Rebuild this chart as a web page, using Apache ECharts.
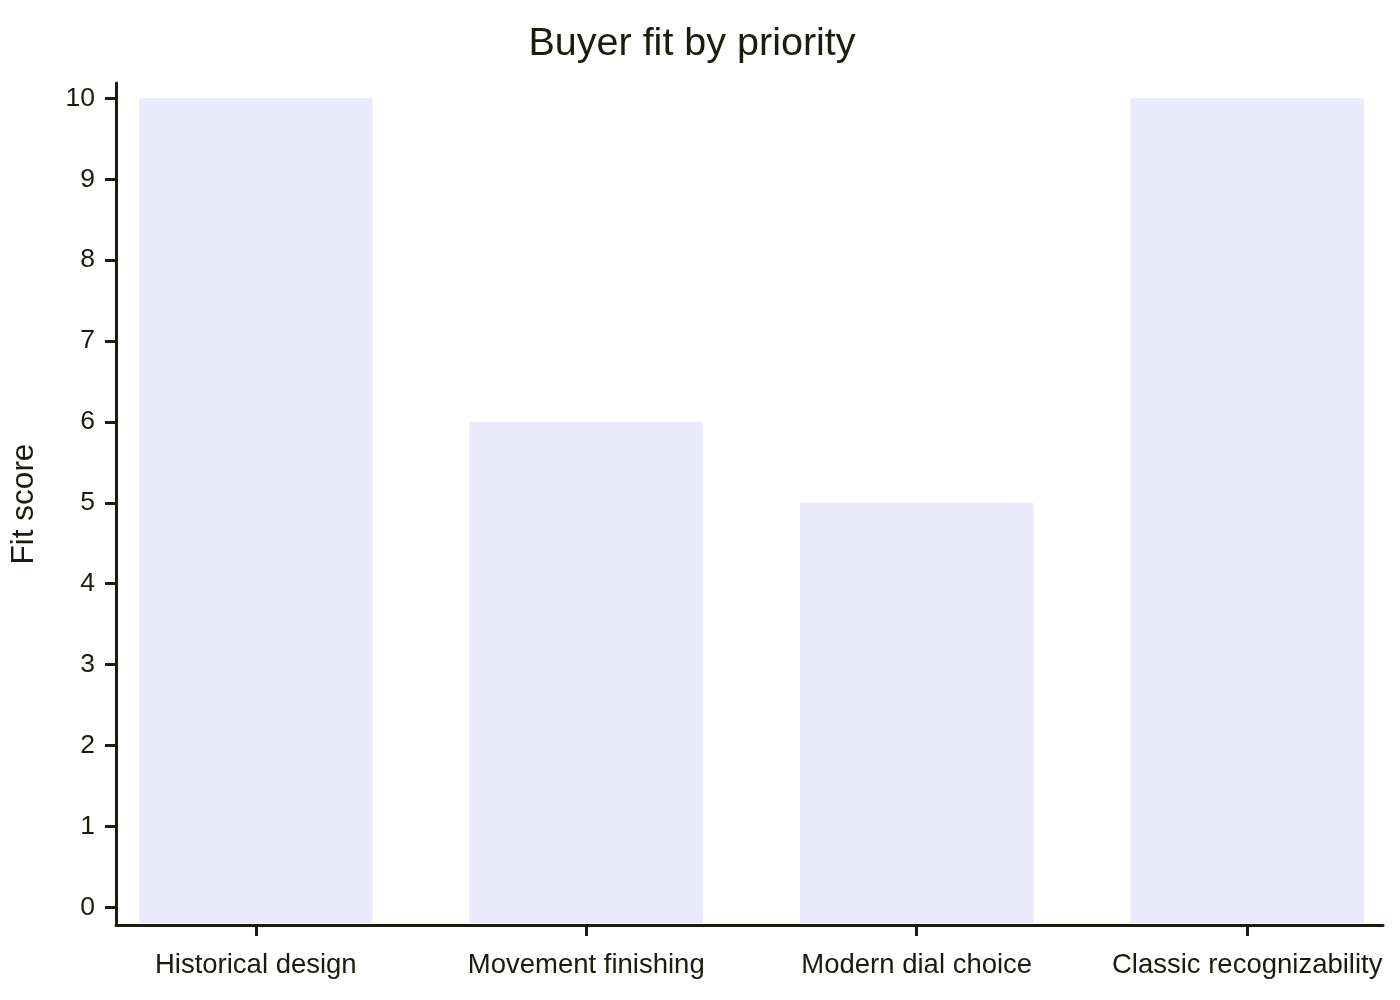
<!DOCTYPE html>
<html>
<head>
<meta charset="utf-8">
<script src="https://cdn.jsdelivr.net/npm/echarts@6/dist/echarts.min.js"></script>
<style>
html,body{margin:0;padding:0;background:#fff;}
#chart{width:1400px;height:1000px;}
</style>
</head>
<body>
<div id="chart"></div>
<script>
const titleText = "Buyer fit by priority";
const yAxisTitle = "Fit score";
const categories = ["Historical design", "Movement finishing", "Modern dial choice", "Classic recognizability"];
const fitScores = [10, 6, 5, 10];
const yTicks = [0, 1, 2, 3, 4, 5, 6, 7, 8, 9, 10];
const xTicks = [0, 1, 2, 3];

const ink = '#1b1b10';
const barColor = '#ebeafc';
const fontFam = '"Liberation Sans", Arial, sans-serif';

const chart = echarts.init(document.getElementById('chart'), null, {renderer: 'canvas'});
chart.setOption({
  backgroundColor: '#ffffff',
  animation: false,
  title: {
    text: titleText,
    left: 687,
    top: 19,
    textAlign: 'center',
    textStyle: {color: ink, fontSize: 39.5, fontWeight: 'normal', fontFamily: fontFam}
  },
  grid: {left: 114, right: 17, top: 83, bottom: 75, containLabel: false},
  xAxis: {
    type: 'value',
    min: -0.423,
    max: 3.411,
    splitLine: {show: false},
    axisLine: {show: true, onZero: false, lineStyle: {color: ink, width: 3}},
    axisTick: {show: true, customValues: xTicks, length: 11, lineStyle: {color: ink, width: 3}},
    axisLabel: {
      customValues: xTicks,
      margin: 26,
      color: ink,
      fontSize: 27.5,
      fontFamily: fontFam,
      formatter: v => categories[Math.round(v)] || ''
    }
  },
  yAxis: {
    type: 'value',
    min: -0.219,
    max: 10.189,
    name: yAxisTitle,
    nameLocation: 'middle',
    nameGap: 76,
    nameTextStyle: {color: ink, fontSize: 31.5, fontFamily: fontFam},
    splitLine: {show: false},
    axisLine: {show: true, onZero: false, lineStyle: {color: ink, width: 3}},
    axisTick: {show: true, customValues: yTicks, length: 11, lineStyle: {color: ink, width: 3}},
    axisLabel: {
      customValues: yTicks,
      margin: 21,
      color: ink,
      fontSize: 26.5,
      fontFamily: fontFam
    }
  },
  series: [{
    type: 'custom',
    data: fitScores.map((v, i) => [i, v]),
    encode: {x: 0, y: 1},
    clip: true,
    renderItem: function (params, api) {
      const top = api.coord([api.value(0), api.value(1)]);
      const band = api.size([1, 0])[0];
      const w = band * 0.707;
      const cs = params.coordSys;
      const bottom = cs.y + cs.height - 2;
      return {
        type: 'rect',
        shape: {x: top[0] - w / 2, y: top[1], width: w, height: bottom - top[1]},
        style: {fill: barColor},
        z2: 0
      };
    }
  }]
});
</script>
</body>
</html>
